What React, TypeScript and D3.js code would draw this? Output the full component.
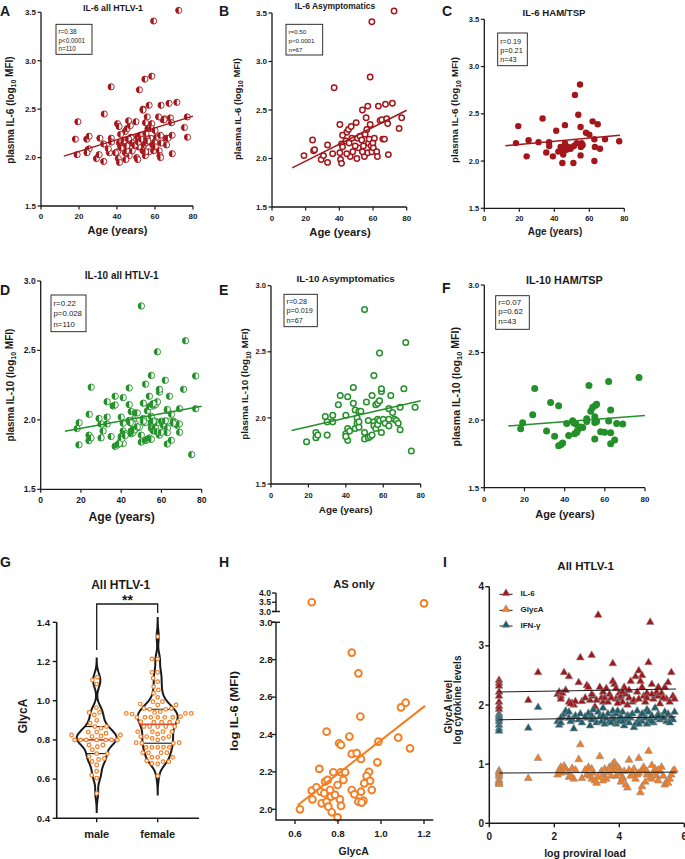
import React from "react";
import * as d3 from "d3";

const FONT = "'Liberation Sans', Arial, Helvetica, sans-serif";
const RED = "#a3161b";
const GREEN = "#23902a";
const ORANGE = "#f57d22";
const TEAL = "#1d5e6c";
const INK = "#1a1a1a";
const MEDIAN_RED = "#e8342a";

type Pt = [number, number];

// ---------- Tick labels ----------
const AGE_TICKS = [0, 20, 40, 60, 80];
const IL6_TICKS = [1.5, 2.0, 2.5, 3.0, 3.5];
const IL10_TICKS = [1.5, 2.0, 2.5, 3.0];
const GLYCA_TICKS = [0.4, 0.6, 0.8, 1.0, 1.2, 1.4];
const H_X_TICKS = [0.6, 0.8, 1.0, 1.2];
const H_Y_TICKS = [2.0, 2.2, 2.4, 2.6, 2.8, 3.0];
const H_Y_UPPER_TICKS = [3.0, 3.5, 4.0];
const PVL_TICKS = [0, 2, 4, 6];
const LEVEL_TICKS = [0, 1, 2, 3, 4];
const SEX = ["male", "female"];

// ---------- IL-6 vs age ----------
const AS_IL6: Pt[] = [
  [72.5, 3.52], [59.3, 3.41], [58.3, 2.84], [36.9, 2.73], [19, 2.03], [24.1, 2.19], [24.7, 2.08], [25.3, 2.09],
  [29.2, 1.99], [30.6, 2.03], [33, 2.14], [33, 1.96], [36, 2.05], [40.3, 2.35], [40.3, 2.06], [40.7, 1.99],
  [41.3, 1.95], [41.3, 2.15], [41.9, 2.12], [43.9, 2.18], [44.4, 2.27], [45.4, 2.3], [45.8, 2.16], [46.4, 2.02],
  [47, 2.33], [47.4, 2.21], [48, 2.07], [50, 2.37], [50.4, 2.0], [50.8, 2.21], [51.4, 2.11], [52.3, 2.23],
  [53.3, 2.19], [53.7, 2.5], [54.3, 2.13], [54.9, 2.02], [55.3, 2.25], [55.9, 2.42], [56.3, 2.3], [56.9, 2.54],
  [56.9, 2.06], [57.3, 2.16], [57.7, 2.2], [58.3, 2.35], [58.9, 2.13], [59.3, 2.07], [59.9, 2.16], [60.2, 2.11],
  [62.2, 2.07], [62.6, 2.02], [63.2, 2.54], [64.2, 2.39], [65.2, 2.4], [65.8, 2.2], [66.8, 2.2], [67.4, 2.56],
  [68.1, 2.41], [68.7, 2.36], [69.1, 2.04], [71.5, 2.57], [75.5, 2.31], [77, 2.42], [41.9, 2.24], [49.4, 2.13],
  [53.7, 2.07], [60.8, 2.21], [44.4, 2.05],
];
const HAM_IL6: Pt[] = [
  [18.1, 2.19], [19.4, 2.37], [24.2, 2.05], [25.3, 2.22], [31, 2.2], [33.3, 2.45], [35.4, 2.09], [37, 2.2],
  [37.1, 2.16], [39.2, 2.05], [41.1, 2.32], [42.3, 2.1], [43.6, 2.15], [44.6, 1.98], [45.1, 2.07], [46.1, 2.38],
  [46.1, 2.19], [46.1, 2.13], [47, 2.12], [48, 2.15], [49.3, 2.13], [50.9, 1.98], [51.2, 2.16], [51.8, 2.7],
  [52.8, 2.19], [53.7, 2.49], [54.7, 2.81], [55, 2.36], [55, 2.06], [55.2, 2.15], [55.6, 2.19], [56.2, 2.17],
  [58.1, 2.3], [60, 2.28], [61.9, 2.42], [62.9, 2.23], [62.9, 2.0], [63.2, 2.15], [64.8, 2.39], [66.1, 2.13],
  [69, 2.23], [77.1, 2.21], [45.1, 2.12],
];
const ALL_IL6: Pt[] = [...AS_IL6, ...HAM_IL6];

// ---------- IL-10 vs age ----------
const AS_IL10: Pt[] = [
  [19, 1.82], [24, 1.89], [24, 1.85], [25, 1.87], [29, 2.01], [30, 1.97], [30, 1.87], [33, 2.02], [33, 1.97],
  [36, 2.1], [37, 2.17], [40, 2.02], [40, 1.88], [41, 2.16], [41, 1.92], [41, 1.83], [42, 1.9], [44, 2.23],
  [44, 2.11], [45, 2.06], [45, 1.92], [46, 2.0], [46, 1.96], [47, 2.05], [47, 1.93], [48, 2.05], [50, 2.82],
  [50, 1.84], [50, 1.89], [51, 2.12], [52, 1.98], [52, 1.85], [53, 1.86], [54, 2.17], [54, 1.87], [55, 2.32],
  [55, 1.97], [55, 1.94], [56, 1.92], [56, 2.1], [57, 2.11], [57, 1.99], [57, 1.95], [58, 2.49], [58, 2.13],
  [58, 1.98], [59, 2.2], [59, 2.22], [59, 1.89], [60, 1.99], [61, 1.96], [63, 2.07], [63, 1.99], [63, 1.94],
  [64, 2.17], [65, 2.04], [66, 1.99], [67, 1.98], [68, 1.96], [69, 2.08], [69, 1.91], [71, 2.22], [72, 2.57],
  [75, 1.75], [77, 2.08], [40, 1.86], [47, 1.97],
];
const HAM_IL10: Pt[] = [
  [18.1, 1.937], [19.1, 1.98], [24.1, 2.04], [25.1, 2.235], [31, 1.92], [33, 2.13], [35, 1.88], [37, 2.107],
  [37, 1.81], [38.2, 1.82], [39, 1.83], [41, 1.976], [42, 1.887], [44, 1.996], [45, 1.9], [45.5, 1.974],
  [46, 1.91], [46.5, 1.927], [49, 1.946], [51, 2.01], [51, 1.99], [52.1, 2.257], [53, 2.065], [54, 2.095],
  [55, 2.025], [55, 1.983], [55, 1.86], [55.4, 2.11], [55.9, 2.117], [57.9, 1.914], [59.9, 1.91], [61.9, 2.285],
  [61.9, 1.993], [62.9, 2.075], [62.9, 1.907], [62.9, 1.826], [64.9, 1.853], [65.9, 1.976], [68.9, 1.971],
  [77, 2.316], [55.9, 1.99], [48, 1.95], [44.5, 1.98],
];
const ALL_IL10: Pt[] = [...AS_IL10, ...HAM_IL10];

// ---------- regression lines (age, value) ----------
const FIT_ALL_IL6: Pt[] = [[12, 2.015], [80, 2.428]];
const FIT_AS_IL6: Pt[] = [[12, 1.903], [80, 2.497]];
const FIT_HAM_IL6: Pt[] = [[12, 2.163], [77.5, 2.272]];
const FIT_ALL_IL10: Pt[] = [[12, 1.918], [80, 2.098]];
const FIT_AS_IL10: Pt[] = [[11, 1.904], [80, 2.13]];
const FIT_HAM_IL10: Pt[] = [[12, 1.956], [80, 2.035]];

const STATS_A = ["r=0.38", "p<0.0001", "n=110"];
const STATS_B = ["r=0.50", "p<0.0001", "n=67"];
const STATS_C = ["r=0.19", "p=0.21", "n=43"];
const STATS_D = ["r=0.22", "p=0.028", "n=110"];
const STATS_E = ["r=0.28", "p=0.019", "n=67"];
const STATS_F = ["r=0.07", "p=0.62", "n=43"];

// ---------- GlycA by sex ----------
const MALE_GLYCA = [
  1.12, 1.105, 1.085, 0.965, 0.94, 0.94, 0.927, 0.9, 0.885, 0.868, 0.868, 0.86, 0.84, 0.84, 0.834, 0.825, 0.825,
  0.82, 0.817, 0.8, 0.8, 0.8, 0.8, 0.8, 0.8, 0.8, 0.774, 0.774, 0.765, 0.75, 0.73, 0.73, 0.715, 0.705, 0.7, 0.69,
  0.672, 0.64, 0.62, 0.605, 0.527,
];
const FEMALE_GLYCA = [
  1.327, 1.213, 1.213, 1.145, 1.145, 1.115, 1.097, 1.072, 1.055, 1.038, 1.017, 0.995, 0.995, 0.983, 0.978, 0.978,
  0.96, 0.96, 0.956, 0.956, 0.944, 0.94, 0.935, 0.935, 0.935, 0.932, 0.919, 0.915, 0.915, 0.915, 0.915, 0.915,
  0.915, 0.893, 0.893, 0.89, 0.89, 0.89, 0.868, 0.868, 0.868, 0.868, 0.868, 0.842, 0.842, 0.842, 0.842, 0.83,
  0.817, 0.817, 0.817, 0.808, 0.808, 0.8, 0.786, 0.786, 0.783, 0.783, 0.762, 0.762, 0.762, 0.762, 0.762, 0.735,
  0.735, 0.735, 0.735, 0.711, 0.711, 0.711, 0.693, 0.689, 0.689, 0.68, 0.677, 0.616,
];

// ---------- AS only: GlycA vs IL-6 ----------
const H_GLYCA = [
  0.678, 1.2, 0.864, 0.895, 1.093, 1.115, 0.904, 0.747, 0.853, 0.805, 0.814, 0.988, 1.08, 1.135, 0.864, 0.887,
  0.907, 0.983, 0.713, 0.778, 0.812, 0.833, 0.825, 0.74, 0.752, 0.798, 0.944, 0.933, 0.949, 0.922, 0.957, 0.907,
  0.864, 0.876, 0.678, 0.7, 0.719, 0.736, 0.681, 0.724, 0.747, 0.767, 0.755, 0.771, 0.798, 0.809, 0.814, 0.895,
  0.918, 0.91, 0.623, 0.786, 0.763,
];
const H_IL6 = [
  3.5, 3.44, 2.838, 2.727, 2.545, 2.57, 2.496, 2.415, 2.389, 2.353, 2.344, 2.362, 2.383, 2.326, 2.296, 2.3,
  2.269, 2.251, 2.216, 2.198, 2.198, 2.198, 2.157, 2.148, 2.157, 2.13, 2.2, 2.178, 2.152, 2.139, 2.103, 2.094,
  2.103, 2.08, 2.1, 2.118, 2.094, 2.086, 2.053, 2.032, 2.041, 2.068, 2.014, 1.984, 1.957, 2.053, 2.018, 2.041,
  2.046, 2.036, 2.0, 2.077, 2.103,
];
const FIT_H: Pt[] = [[0.612, 2.022], [1.205, 2.553]];

// ---------- proviral load panel ----------
const PVL = [
  0.3, 0.3, 0.3, 0.3, 0.3, 0.3, 0.3, 0.3, 1.2, 1.5, 2.1, 2.15, 2.2, 2.25, 2.3, 2.35, 2.45, 2.45, 2.55, 2.6, 2.65,
  2.75, 2.8, 2.85, 3.0, 3.05, 3.1, 3.15, 3.2, 3.25, 3.3, 3.35, 3.4, 3.45, 3.5, 3.55, 3.6, 3.65, 3.7, 3.8, 3.8,
  3.85, 3.9, 3.9, 4.0, 4.0, 4.05, 4.1, 4.15, 4.2, 4.25, 4.3, 4.35, 4.4, 4.45, 4.5, 4.55, 4.6, 4.65, 4.7, 4.75,
  4.8, 4.85, 4.85, 4.9, 4.95, 5.0, 5.05, 5.1, 5.15, 5.2, 5.25, 5.3, 5.4, 5.45, 5.5, 5.6, 5.65, 5.7, 2.2, 2.5,
  2.95, 3.15, 3.5, 3.75, 3.95, 4.1, 4.3, 4.6, 4.7, 5.0, 5.2, 5.35, 5.55,
];
const PVL_IL6 = [
  2.42, 2.37, 2.32, 2.22, 2.15, 2.05, 1.98, 1.93, 2.08, 2.55, 2.18, 2.22, 2.15, 2.2, 2.55, 2.25, 2.48, 2.05, 2.03,
  2.0, 2.06, 2.38, 2.8, 2.06, 2.33, 2.3, 2.08, 2.84, 2.15, 1.97, 2.08, 3.52, 2.3, 2.12, 2.05, 2.12, 2.28, 2.05,
  2.18, 2.4, 2.7, 2.35, 2.28, 2.1, 2.2, 2.12, 2.15, 2.05, 2.3, 2.18, 2.0, 2.12, 2.4, 2.05, 2.08, 2.48, 2.22, 2.58,
  2.4, 2.5, 2.15, 2.05, 2.2, 2.12, 2.72, 3.4, 2.35, 2.1, 2.15, 2.22, 2.15, 2.02, 2.2, 2.3, 2.1, 2.38, 2.55, 2.15,
  2.1, 2.1, 2.02, 2.12, 2.18, 2.22, 2.12, 2.03, 2.22, 2.25, 2.1, 2.3, 2.18, 2.3, 2.12, 2.05,
];
const PVL_GLYCA = [
  0.89, 0.86, 0.83, 0.79, 0.73, 0.7, 0.68, 0.66, 0.76, 1.1, 0.82, 0.9, 0.95, 0.88, 0.97, 0.92, 0.78, 0.86, 0.93,
  0.75, 0.9, 1.08, 1.33, 0.76, 0.82, 0.95, 0.8, 0.75, 0.85, 0.72, 0.68, 0.78, 1.13, 0.88, 0.82, 0.92, 0.75, 0.86,
  0.95, 1.0, 0.9, 1.03, 0.8, 0.96, 0.84, 0.92, 0.7, 0.78, 0.88, 0.65, 0.6, 1.07, 0.8, 0.85, 0.92, 0.75, 0.82, 1.1,
  0.52, 0.9, 0.95, 0.7, 0.82, 0.88, 1.22, 0.78, 0.98, 0.85, 0.92, 0.8, 0.72, 0.88, 0.95, 0.65, 0.7, 0.68, 0.82,
  0.88, 0.9, 0.85, 0.8, 0.9, 0.92, 0.72, 0.8, 0.95, 0.75, 0.9, 0.85, 0.62, 0.75, 0.9, 0.8, 0.75,
];
const PVL_IFN = [
  1.85, 1.82, 1.79, 1.76, 1.72, 1.66, 1.6, 1.56, 1.61, 1.96, 1.72, 1.66, 1.7, 1.8, 1.85, 1.9, 1.88, 1.78, 1.75,
  1.6, 1.82, 1.75, 1.85, 1.7, 1.78, 1.86, 1.65, 1.82, 1.92, 1.75, 1.7, 1.88, 1.8, 1.72, 1.95, 1.68, 1.77, 1.85,
  1.72, 1.8, 1.9, 1.75, 1.68, 1.85, 1.78, 1.72, 1.8, 1.88, 1.65, 1.75, 1.82, 1.7, 1.78, 1.85, 1.62, 1.68, 1.9,
  1.75, 1.8, 1.72, 1.85, 1.78, 1.92, 1.68, 1.88, 1.75, 1.82, 1.7, 1.95, 1.78, 1.85, 1.75, 1.8, 1.88, 1.72, 1.85,
  1.78, 1.75, 1.88, 1.78, 1.72, 1.8, 1.75, 1.82, 1.7, 1.9, 1.72, 1.8, 1.68, 1.85, 1.72, 1.82, 1.78, 1.7,
];
const FIT_PVL_IL6: Pt[] = [[0.3, 2.22], [5.75, 2.27]];
const FIT_PVL_IFN: Pt[] = [[0.3, 1.75], [5.75, 1.8]];
const FIT_PVL_GLYCA: Pt[] = [[0.3, 0.85], [5.75, 0.865]];
const SERIES_I = ["IL-6", "GlycA", "IFN-γ"];

// ---------- helpers ----------
function RotText(p: { x: number; y: number; size: number; weight?: string; len?: number; children: React.ReactNode }) {
  return (
    <text
      transform={`translate(${p.x},${p.y}) rotate(-90)`}
      textAnchor="middle"
      dy="0.35em"
      fontSize={p.size}
      fontWeight={p.weight ?? "bold"}
      fill={INK}
      textLength={p.len}
      lengthAdjust={p.len ? "spacingAndGlyphs" : undefined}
    >
      {p.children}
    </text>
  );
}

type Box = { x: number; y: number; w: number; h: number; fs: number; lh: number; first: number };
type SPProps = {
  x0: number; x1: number; yTop: number; yBot: number;
  yDomain: [number, number]; yTicks: number[];
  data: Pt[]; kind: "half" | "open" | "filled"; color: string; r: number; fit: Pt[];
  title: string; tx: number; ty: number; tfs: number;
  stats: string[]; box: Box;
  ylab: [string, string, string]; ylx: number; yly: number; ylfs: number;
  xlx: number; xly: number; xlfs: number;
  tickFs: number; xTickDy: number;
};

function ScatterPanel(p: SPProps) {
  const x = d3.scaleLinear([0, 80], [p.x0, p.x1]);
  const y = d3.scaleLinear(p.yDomain, [p.yBot, p.yTop]);
  const line = d3.line<Pt>().x((d) => x(d[0])).y((d) => y(d[1]));
  const r = p.r;
  return (
    <g>
      {p.data.map((d, i) => {
        const cx = x(d[0]);
        const cy = y(d[1]);
        if (p.kind === "filled") return <circle key={i} cx={cx} cy={cy} r={r} fill={p.color} />;
        if (p.kind === "open")
          return <circle key={i} cx={cx} cy={cy} r={r} fill="white" stroke={p.color} strokeWidth={1.5} />;
        return (
          <g key={i}>
            <circle cx={cx} cy={cy} r={r} fill="white" stroke={p.color} strokeWidth={0.9} />
            <path d={`M${cx},${cy - r}A${r},${r} 0 0 0 ${cx},${cy + r}Z`} fill={p.color} />
          </g>
        );
      })}
      <path d={line(p.fit) ?? ""} stroke={p.color} strokeWidth={1.5} fill="none" />
      <path d={`M${p.x0},${p.yTop}V${p.yBot}H${p.x1}`} stroke={INK} strokeWidth={1.3} fill="none" />
      {p.yTicks.map((t) => (
        <g key={"y" + t}>
          <line x1={p.x0 - 3.5} x2={p.x0} y1={y(t)} y2={y(t)} stroke={INK} strokeWidth={1.2} />
          <text x={p.x0 - 5} y={y(t)} dy="0.35em" textAnchor="end" fontSize={p.tickFs} fontWeight="bold" fill={INK}>
            {t.toFixed(1)}
          </text>
        </g>
      ))}
      {AGE_TICKS.map((t) => (
        <g key={"x" + t}>
          <line x1={x(t)} x2={x(t)} y1={p.yBot} y2={p.yBot + 3.5} stroke={INK} strokeWidth={1.2} />
          <text x={x(t)} y={p.yBot + p.xTickDy} dy="0.35em" textAnchor="middle" fontSize={p.tickFs} fontWeight="bold" fill={INK}>
            {t}
          </text>
        </g>
      ))}
      <rect x={p.box.x} y={p.box.y} width={p.box.w} height={p.box.h} fill="white" stroke={INK} strokeWidth={0.9} />
      {p.stats.map((s, i) => (
        <text key={s} x={p.box.x + 2.5} y={p.box.y + p.box.first + i * p.box.lh} fontSize={p.box.fs} fill={INK}>
          {s}
        </text>
      ))}
      <text x={p.tx} y={p.ty} dy="0.35em" textAnchor="middle" fontSize={p.tfs} fontWeight="bold" fill={INK}>
        {p.title}
      </text>
      <RotText x={p.ylx} y={p.yly} size={p.ylfs}>
        {p.ylab[0]}
        <tspan fontSize="70%" dy="0.3em">{p.ylab[1]}</tspan>
        <tspan dy="-0.3em">{p.ylab[2]}</tspan>
      </RotText>
      <text x={p.xlx} y={p.xly} dy="0.35em" textAnchor="middle" fontSize={p.xlfs} fontWeight="bold" fill={INK}>
        Age (years)
      </text>
    </g>
  );
}

function swarm(vals: number[], yf: (v: number) => number, dist: number) {
  const sorted = [...vals].sort((a, b) => a - b);
  const placed: { x: number; y: number }[] = [];
  const out: { v: number; dx: number }[] = [];
  for (const v of sorted) {
    const py = yf(v);
    const iv: [number, number][] = [];
    for (const q of placed) {
      const dy = Math.abs(q.y - py);
      if (dy < dist) {
        const w = Math.sqrt(dist * dist - dy * dy);
        iv.push([q.x - w, q.x + w]);
      }
    }
    const cands = [0, ...iv.flatMap((a) => a)].sort((a, b) => Math.abs(a) - Math.abs(b));
    let best = 0;
    for (const c of cands) {
      if (iv.every(([a, b]) => c <= a + 1e-6 || c >= b - 1e-6)) {
        best = c;
        break;
      }
    }
    placed.push({ x: best, y: py });
    out.push({ v, dx: best });
  }
  return out;
}

function ViolinPanel() {
  const y = d3.scaleLinear([0.4, 1.4], [818.3, 622.3]);
  const x = d3.scalePoint(SEX, [96.7, 157.7]);
  const groups = [MALE_GLYCA, FEMALE_GLYCA];
  const bw = 0.032;
  const MAXW = 20;
  return (
    <g>
      {groups.map((vals, gi) => {
        const cx = x(SEX[gi]) as number;
        const lo = (d3.min(vals) as number) - 0.095;
        const hi = (d3.max(vals) as number) + 0.095;
        const grid = d3.range(lo, hi, 0.004).concat([hi]);
        const dens = grid.map((t) => d3.sum(vals, (v) => Math.exp(-0.5 * ((t - v) / bw) ** 2)));
        const m = d3.max(dens) as number;
        const pts = grid.map((t, i) => ({ t, w: (dens[i] / m) * MAXW }));
        const area = d3
          .area<{ t: number; w: number }>()
          .y((d) => y(d.t))
          .x0((d) => cx - d.w)
          .x1((d) => cx + d.w)
          .curve(d3.curveBasis);
        const sorted = [...vals].sort((a, b) => a - b);
        const qs = [0.25, 0.5, 0.75].map((q) => d3.quantile(sorted, q) as number);
        const widthAt = (v: number) => {
          const i = d3.bisector((d: { t: number }) => d.t).center(pts, v);
          return pts[i].w;
        };
        const sw = swarm(vals, y, 5.8);
        return (
          <g key={gi}>
            <path d={area(pts) ?? ""} fill="white" stroke={INK} strokeWidth={2} />
            {qs.map((q, qi) => (
              <line
                key={qi}
                x1={cx - widthAt(q)}
                x2={cx + widthAt(q)}
                y1={y(q)}
                y2={y(q)}
                stroke={qi === 1 ? MEDIAN_RED : INK}
                strokeWidth={qi === 1 ? 1.6 : 1.1}
              />
            ))}
            {sw.map((s, i) => (
              <circle key={i} cx={cx + s.dx} cy={y(s.v)} r={1.8} fill="white" stroke={ORANGE} strokeWidth={1.2} />
            ))}
          </g>
        );
      })}
      <path d="M56.7,622.3V818.3H199" stroke={INK} strokeWidth={1.6} fill="none" />
      {GLYCA_TICKS.map((t) => (
        <g key={t}>
          <line x1={52.7} x2={56.7} y1={y(t)} y2={y(t)} stroke={INK} strokeWidth={1.4} />
          <text x={50} y={y(t)} dy="0.35em" textAnchor="end" fontSize={9.6} fontWeight="bold" fill={INK}>
            {t.toFixed(1)}
          </text>
        </g>
      ))}
      {SEX.map((s) => (
        <g key={s}>
          <line x1={x(s)} x2={x(s)} y1={818.3} y2={822.3} stroke={INK} strokeWidth={1.4} />
          <text x={x(s)} y={834} dy="0.35em" textAnchor="middle" fontSize={11} fontWeight="bold" fill={INK}>
            {s}
          </text>
        </g>
      ))}
      <path d={`M${x("male")},650V604H${x("female")}V613`} stroke={INK} strokeWidth={1.3} fill="none" />
      <text x={127.5} y={605} textAnchor="middle" fontSize={14} fontWeight="bold" fill={INK}>
        **
      </text>
      <text x={120.7} y={584.5} dy="0.35em" textAnchor="middle" fontSize={12} fontWeight="bold" fill={INK}>
        All HTLV-1
      </text>
      <RotText x={22.5} y={716} size={12}>GlycA</RotText>
    </g>
  );
}

function GlycaIL6Panel() {
  const x = d3.scaleLinear([0.6, 1.2], [295, 424]);
  const y = d3.scaleLinear([2.0, 3.0], [809.3, 622.3]);
  const yUp = d3.scaleLinear([3.0, 4.0], [611.5, 593]);
  const yy = (v: number) => (v > 3.0 ? yUp(v) : y(v));
  const line = d3.line<Pt>().x((d) => x(d[0])).y((d) => y(d[1]));
  const ax = 276;
  return (
    <g>
      {H_GLYCA.map((g, i) => (
        <circle key={i} cx={x(g)} cy={yy(H_IL6[i])} r={3.4} fill="white" stroke={ORANGE} strokeWidth={1.9} />
      ))}
      <path d={line(FIT_H) ?? ""} stroke={ORANGE} strokeWidth={2} fill="none" />
      <path d={`M${ax},622.3V820H433.3`} stroke={INK} strokeWidth={1.4} fill="none" />
      <path d={`M${ax},593V611.5`} stroke={INK} strokeWidth={1.4} fill="none" />
      <line x1={ax - 4} x2={ax + 4} y1={611.5} y2={611.5} stroke={INK} strokeWidth={1.4} />
      <line x1={ax - 4} x2={ax + 4} y1={622.3} y2={622.3} stroke={INK} strokeWidth={1.4} />
      {H_Y_TICKS.map((t) => (
        <g key={t}>
          <line x1={ax - 4} x2={ax} y1={y(t)} y2={y(t)} stroke={INK} strokeWidth={1.3} />
          <text x={272.5} y={y(t)} dy="0.35em" textAnchor="end" fontSize={9.6} fontWeight="bold" fill={INK}>
            {t.toFixed(1)}
          </text>
        </g>
      ))}
      {H_Y_UPPER_TICKS.map((t) => (
        <g key={"u" + t}>
          <line x1={ax - 4} x2={ax} y1={yUp(t)} y2={yUp(t)} stroke={INK} strokeWidth={1.3} />
          <text x={271} y={yUp(t)} dy="0.35em" textAnchor="end" fontSize={8.6} fontWeight="bold" fill={INK}>
            {t.toFixed(1)}
          </text>
        </g>
      ))}
      {H_X_TICKS.map((t) => (
        <g key={"x" + t}>
          <line x1={x(t)} x2={x(t)} y1={820} y2={824} stroke={INK} strokeWidth={1.3} />
          <text x={x(t)} y={834} dy="0.35em" textAnchor="middle" fontSize={9.8} fontWeight="bold" fill={INK}>
            {t.toFixed(1)}
          </text>
        </g>
      ))}
      <text x={354} y={584} dy="0.35em" textAnchor="middle" fontSize={11.2} fontWeight="bold" fill={INK}>
        AS only
      </text>
      <text x={353.7} y={851} dy="0.35em" textAnchor="middle" fontSize={10.5} fontWeight="bold" fill={INK}>
        GlycA
      </text>
      <RotText x={234} y={711} size={10} len={80}>log IL-6 (MFI)</RotText>
    </g>
  );
}

function Triangle(p: { x: number; y: number; color: string }) {
  const sym = d3.symbol(d3.symbolTriangle, 26)();
  return <path d={sym ?? ""} transform={`translate(${p.x},${p.y})`} fill={p.color} stroke="#8c8c8c" strokeWidth={0.6} />;
}

function PVLPanel() {
  const x = d3.scaleLinear([0, 6], [489.3, 684.3]);
  const y = d3.scaleLinear([0, 4], [823.3, 586.7]);
  const line = d3.line<Pt>().x((d) => x(d[0])).y((d) => y(d[1]));
  const series = [
    { vals: PVL_IL6, color: RED, fit: FIT_PVL_IL6 },
    { vals: PVL_IFN, color: TEAL, fit: FIT_PVL_IFN },
    { vals: PVL_GLYCA, color: ORANGE, fit: FIT_PVL_GLYCA },
  ];
  const legendColors = [RED, ORANGE, TEAL];
  const legendY = [593.3, 609.3, 625];
  return (
    <g>
      {series.map((s, si) => (
        <g key={si}>
          {PVL.map((pv, i) => (
            <Triangle key={i} x={x(pv)} y={y(s.vals[i])} color={s.color} />
          ))}
        </g>
      ))}
      {series.map((s, si) => (
        <path key={"f" + si} d={line(s.fit) ?? ""} stroke={INK} strokeWidth={1} fill="none" />
      ))}
      <path d="M489.3,586.7V823.3H684.3" stroke={INK} strokeWidth={1.5} fill="none" />
      {LEVEL_TICKS.map((t) => (
        <g key={t}>
          <line x1={485.3} x2={489.3} y1={y(t)} y2={y(t)} stroke={INK} strokeWidth={1.4} />
          <text x={484} y={y(t)} dy="0.35em" textAnchor="end" fontSize={10} fontWeight="bold" fill={INK}>
            {t}
          </text>
        </g>
      ))}
      {PVL_TICKS.map((t) => (
        <g key={"x" + t}>
          <line x1={x(t)} x2={x(t)} y1={823.3} y2={827.3} stroke={INK} strokeWidth={1.4} />
          <text x={x(t)} y={836.7} dy="0.35em" textAnchor="middle" fontSize={10} fontWeight="bold" fill={INK}>
            {t}
          </text>
        </g>
      ))}
      {SERIES_I.map((s, i) => (
        <g key={s}>
          <line x1={499.5} x2={512.5} y1={legendY[i] + 1} y2={legendY[i] + 1} stroke={INK} strokeWidth={1} />
          <Triangle x={506} y={legendY[i]} color={legendColors[i]} />
          <text x={520.5} y={legendY[i]} dy="0.35em" fontSize={8} fontWeight="bold" fill={INK}>
            {s}
          </text>
        </g>
      ))}
      <text x={585.7} y={566} dy="0.35em" textAnchor="middle" fontSize={11.5} fontWeight="bold" fill={INK}>
        All HTLV-1
      </text>
      <text x={585} y={853} dy="0.35em" textAnchor="middle" fontSize={10.5} fontWeight="bold" fill={INK}>
        log proviral load
      </text>
      <RotText x={448} y={706.7} size={10}>GlycA level</RotText>
      <RotText x={457.5} y={700} size={10}>log cytokine levels</RotText>
    </g>
  );
}

const LETTERS: [string, number, number][] = [
  ["A", 0, 15.5], ["B", 219, 15.5], ["C", 442, 15.5],
  ["D", 0, 295], ["E", 219, 295], ["F", 442, 293],
  ["G", 0, 567], ["H", 219, 567], ["I", 443, 567],
];

export default function App() {
  return (
    <svg
      width={685}
      height={859}
      viewBox="0 0 685 859"
      style={{ position: "absolute", left: 0, top: 0, background: "white" }}
      fontFamily={FONT}
    >
      <rect width={685} height={859} fill="white" />
      <ScatterPanel
        x0={41} x1={193} yTop={12.3} yBot={206} yDomain={[1.5, 3.5]} yTicks={IL6_TICKS}
        data={ALL_IL6} kind="half" color={RED} r={3.1} fit={FIT_ALL_IL6}
        title="IL-6 all HTLV-1" tx={113} ty={8.3} tfs={8.8}
        stats={STATS_A} box={{ x: 56, y: 24.3, w: 36, h: 30, fs: 6.3, lh: 8.6, first: 9.6 }}
        ylab={["plasma IL-6 (log", "10", " MFI)"]} ylx={10} yly={110} ylfs={10}
        xlx={117.5} xly={230} xlfs={11} tickFs={8} xTickDy={10}
      />
      <ScatterPanel
        x0={272} x1={406.7} yTop={13} yBot={207} yDomain={[1.5, 3.5]} yTicks={IL6_TICKS}
        data={AS_IL6} kind="open" color={RED} r={2.7} fit={FIT_AS_IL6}
        title="IL-6 Asymptomatics" tx={335} ty={6.3} tfs={8.5}
        stats={STATS_B} box={{ x: 286, y: 24.3, w: 36.7, h: 30.7, fs: 6.2, lh: 8.8, first: 9.8 }}
        ylab={["plasma IL-6 (log", "10", " MFI)"]} ylx={238} yly={109} ylfs={9.5}
        xlx={340} xly={231.7} xlfs={11.3} tickFs={8} xTickDy={11}
      />
      <ScatterPanel
        x0={484.3} x1={624.3} yTop={19.3} yBot={208.3} yDomain={[1.5, 3.5]} yTicks={IL6_TICKS}
        data={HAM_IL6} kind="filled" color={RED} r={3.2} fit={FIT_HAM_IL6}
        title="IL-6 HAM/TSP" tx={554} ty={12.7} tfs={9.6}
        stats={STATS_C} box={{ x: 497.7, y: 33, w: 29.6, h: 32.7, fs: 7.3, lh: 9, first: 10.5 }}
        ylab={["plasma IL-6 (log", "10", " MFI)"]} ylx={455} yly={110} ylfs={9.9}
        xlx={555} xly={231} xlfs={10} tickFs={7.5} xTickDy={10}
      />
      <ScatterPanel
        x0={40.7} x1={201.7} yTop={281} yBot={489.3} yDomain={[1.5, 3.0]} yTicks={IL10_TICKS}
        data={ALL_IL10} kind="half" color={GREEN} r={3.2} fit={FIT_ALL_IL10}
        title="IL-10 all HTLV-1" tx={121.7} ty={275} tfs={10}
        stats={STATS_D} box={{ x: 51, y: 295, w: 35, h: 36.7, fs: 7.8, lh: 10.2, first: 11.2 }}
        ylab={["plasma IL-10 (log", "10", " MFI)"]} ylx={10} yly={385} ylfs={10}
        xlx={121.7} xly={516.7} xlfs={12.2} tickFs={8.5} xTickDy={10.7}
      />
      <ScatterPanel
        x0={271} x1={420.7} yTop={285.7} yBot={484} yDomain={[1.5, 3.0]} yTicks={IL10_TICKS}
        data={AS_IL10} kind="open" color={GREEN} r={2.8} fit={FIT_AS_IL10}
        title="IL-10 Asymptomatics" tx={345.7} ty={278.3} tfs={9.8}
        stats={STATS_E} box={{ x: 284, y: 294.3, w: 33.3, h: 32.4, fs: 7.2, lh: 9.2, first: 9.8 }}
        ylab={["plasma IL-10 (log", "10", " MFI)"]} ylx={245} yly={384} ylfs={9.9}
        xlx={345.7} xly={509.3} xlfs={9.9} tickFs={7.5} xTickDy={11}
      />
      <ScatterPanel
        x0={484.3} x1={645} yTop={285} yBot={487.7} yDomain={[1.5, 3.0]} yTicks={IL10_TICKS}
        data={HAM_IL10} kind="filled" color={GREEN} r={3.5} fit={FIT_HAM_IL10}
        title="IL-10 HAM/TSP" tx={564.3} ty={280} tfs={10.8}
        stats={STATS_F} box={{ x: 495.7, y: 295.7, w: 33.6, h: 33.6, fs: 8, lh: 9.5, first: 9 }}
        ylab={["plasma IL-10 (log", "10", " MFI)"]} ylx={456} yly={386.7} ylfs={10.6}
        xlx={565} xly={514.3} xlfs={10.9} tickFs={8} xTickDy={11.6}
      />
      <ViolinPanel />
      <GlycaIL6Panel />
      <PVLPanel />
      {LETTERS.map(([l, x, y]) => (
        <text key={l} x={x} y={y} fontSize={14} fontWeight="bold" fill={INK}>
          {l}
        </text>
      ))}
    </svg>
  );
}
